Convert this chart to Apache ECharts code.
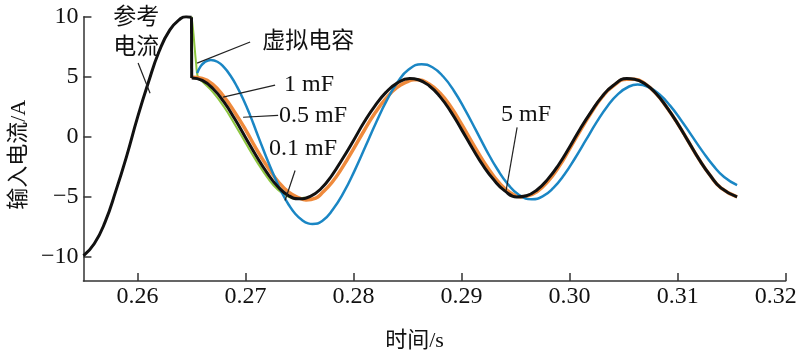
<!DOCTYPE html>
<html><head><meta charset="utf-8">
<script src="https://cdn.jsdelivr.net/npm/echarts@6/dist/echarts.min.js"></script>
<style>html,body{margin:0;padding:0;background:#fff}#c{width:800px;height:359px}</style>
</head><body><div id="c"></div>
<script>
// ---- tick labels ----
const xTicks = [0.26, 0.27, 0.28, 0.29, 0.30, 0.31, 0.32];
const yTicks = [-10, -5, 0, 5, 10];

// ---- reference current (black): before the step ----
const refBefore = [[0.255,-9.9],[0.256,-8.9],[0.257,-7.1],[0.258,-4.5],[0.259,-1.6],[0.260,1.6],
  [0.261,4.5],[0.262,7.1],[0.263,8.9],[0.264,9.85],[0.2645,10],[0.265,9.95]];
// step of the reference
const refStep = [[0.265,9.95],[0.26502,4.9]];
// reference current after the step
const refAfter = [[0.26502,4.9],[0.266,4.7],[0.267,4.0],[0.268,2.9],[0.269,1.5],[0.270,-0.05],[0.271,-1.6],
  [0.272,-3.0],[0.273,-4.15],[0.274,-4.9],[0.2749,-5.15],[0.276,-4.95],[0.277,-4.3],[0.278,-3.2],
  [0.279,-1.8],[0.280,-0.3],[0.281,1.25],[0.282,2.6],[0.283,3.7],[0.284,4.45],[0.2852,4.85],[0.286,4.75],
  [0.287,4.25],[0.288,3.35],[0.289,2.1],[0.290,0.6],[0.291,-0.95],[0.292,-2.4],[0.293,-3.6],[0.294,-4.5],
  [0.2951,-5.0],[0.296,-4.9],[0.297,-4.4],[0.298,-3.5],[0.299,-2.3],[0.300,-0.85],[0.301,0.7],[0.302,2.1],
  [0.303,3.35],[0.304,4.25],[0.3053,4.85],[0.306,4.8],[0.307,4.4],[0.308,3.6],[0.309,2.45],[0.310,1.1],
  [0.311,-0.4],[0.312,-1.9],[0.313,-3.2],[0.314,-4.25],[0.3155,-5.0]];

// ---- virtual capacitance responses ----
const curveGreen = [[0.265,10],[0.26515,8.9],[0.26543,6.1],[0.2656,4.95],[0.266,4.6],[0.267,3.7],
  [0.268,2.5],[0.269,1.05],[0.270,-0.5],[0.271,-2.0],[0.272,-3.35],[0.273,-4.4],[0.274,-5.0],
  [0.2746,-5.15],[0.2755,-5.05]];
const curveOrange = [[0.26502,4.95],[0.266,4.85],[0.267,4.35],[0.268,3.35],[0.269,2.05],[0.270,0.6],
  [0.271,-1.0],[0.272,-2.45],[0.273,-3.7],[0.274,-4.6],[0.275,-5.1],[0.2756,-5.25],[0.2765,-5.1],
  [0.277,-4.75],[0.278,-3.8],[0.279,-2.5],[0.280,-1.0],[0.281,0.55],[0.282,2.0],[0.283,3.2],[0.284,4.1],
  [0.285,4.6],[0.2856,4.75],[0.286,4.75],[0.287,4.4],[0.288,3.65],[0.289,2.5],[0.290,1.05],[0.291,-0.5],
  [0.292,-2.0],[0.293,-3.3],[0.294,-4.3],[0.295,-4.9],[0.2955,-5.0],[0.296,-4.95],[0.297,-4.55],
  [0.298,-3.7],[0.299,-2.5],[0.300,-1.0],[0.301,0.55],[0.302,2.0],[0.303,3.3],[0.304,4.2],[0.3053,4.8],
  [0.306,4.8],[0.307,4.4],[0.308,3.6],[0.309,2.45],[0.310,1.1],[0.311,-0.4],[0.312,-1.9],[0.313,-3.2],
  [0.314,-4.25],[0.3155,-5.0]];
const curveBlue = [[0.26553,5.3],[0.2658,5.8],[0.2662,6.2],[0.2668,6.4],[0.2674,6.25],[0.2680,5.8],
  [0.2686,5.1],[0.2692,4.2],[0.2698,3.1],[0.2704,1.85],[0.2710,0.45],[0.2716,-0.95],[0.2722,-2.3],
  [0.2728,-3.55],[0.2734,-4.7],[0.2740,-5.65],[0.2746,-6.4],[0.2752,-6.9],[0.2758,-7.2],[0.2762,-7.25],
  [0.2771,-7.0],[0.2781,-6.03],[0.2791,-4.61],[0.2801,-2.81],[0.2811,-0.81],[0.2821,1.22],[0.2831,3.07],
  [0.2841,4.58],[0.2851,5.6],[0.2863,6.05],[0.2873,5.79],[0.2883,5.02],[0.2893,3.82],[0.2903,2.29],
  [0.2913,0.6],[0.2923,-1.12],[0.2933,-2.68],[0.2943,-3.96],[0.2953,-4.82],[0.2965,-5.2],[0.2975,-4.96],
  [0.2985,-4.25],[0.2995,-3.16],[0.3005,-1.78],[0.3015,-0.28],[0.3025,1.22],[0.3035,2.55],[0.3045,3.58],
  [0.3055,4.19],[0.3063,4.35],[0.3073,4.14],[0.3083,3.54],[0.3093,2.6],[0.3103,1.41],[0.3113,0.1],
  [0.3123,-1.21],[0.3133,-2.4],[0.3143,-3.34],[0.3155,-4.02]];

// ---- annotations (data coordinates) ----
const annotations = [
  {text:'参考\n电流', at:[0.25988, 8.68], from:[0.26006, 6.14], to:[0.26117, 3.63], cjk:true},
  {text:'虚拟电容', at:[0.27580, 7.89], from:[0.27043, 7.89], to:[0.26552, 6.14], cjk:true},
  {text:'1 mF', at:[0.27589, 4.30], from:[0.27274, 4.30], to:[0.26793, 3.30]},
  {text:'0.5 mF', at:[0.27626, 1.79], from:[0.27302, 1.79], to:[0.26978, 1.63]},
  {text:'0.1 mF', at:[0.27533, -0.96], from:[0.27459, -2.80], to:[0.27366, -5.30]},
  {text:'5 mF', at:[0.29597, 1.88], from:[0.29514, 0.79], to:[0.29412, -4.47]}
];

const FONT = "'Liberation Serif','Noto Sans CJK SC',serif";
const TXT = '#111';
const chart = echarts.init(document.getElementById('c'));
function line(name, data, color, width, smooth) {
  return {name, type:'line', data, showSymbol:false, symbol:'none', smooth: smooth, animation:false,
    lineStyle:{color, width}, itemStyle:{color}, emphasis:{disabled:true}};
}
chart.setOption({
  animation:false,
  backgroundColor:'#fff',
  grid:{left:83.3, right:14.3, top:16.7, bottom:78},
  xAxis:{type:'value', min:0.255, max:0.32, name:'时间/s', nameLocation:'middle', nameGap:49,
    nameTextStyle:{fontFamily:FONT, fontSize:22, color:TXT, padding:[0,40,0,0]},
    axisLine:{onZero:false, lineStyle:{color:'#333', width:1.5}},
    axisTick:{inside:true, length:8, customValues:xTicks, lineStyle:{color:'#333', width:1.5}},
    axisLabel:{customValues:xTicks, margin:4, fontFamily:FONT, fontSize:24, color:TXT,
      formatter:function(v){ const s = v.toFixed(2); return Math.abs(v-0.32)<1e-9 ? '{last|'+s+'}' : s; },
      rich:{last:{fontFamily:FONT, fontSize:24, color:TXT, padding:[0,20,0,0]}}},
    splitLine:{show:false}},
  yAxis:{type:'value', min:-12, max:10, name:'输入电流/A', nameLocation:'middle', nameGap:48,
    nameTextStyle:{fontFamily:FONT, fontSize:22, color:TXT, padding:[0,12,0,0]},
    axisLine:{show:true, onZero:false, lineStyle:{color:'#333', width:1.5}},
    axisTick:{show:true, inside:true, length:8, customValues:yTicks, lineStyle:{color:'#333', width:1.5}},
    axisLabel:{customValues:yTicks, margin:5, fontFamily:FONT, fontSize:24, color:TXT,
      formatter:function(v){ return v<0 ? '\u2212'+(-v) : ''+v; }},
    splitLine:{show:false}},
  series:[
    line('green', curveGreen, '#8dc63f', 2, true),
    line('orange', curveOrange, '#ef8a3c', 3.5, true),
    line('blue', curveBlue, '#1a86c4', 2.5, true),
    line('refBefore', refBefore, '#111', 3, true),
    line('refStep', refStep, '#111', 3, false),
    line('refAfter', refAfter, '#111', 3, true)
  ]
});

const els = [];
annotations.forEach(function(a){
  const p = chart.convertToPixel({gridIndex:0}, a.at);
  const f = chart.convertToPixel({gridIndex:0}, a.from);
  const t = chart.convertToPixel({gridIndex:0}, a.to);
  els.push({type:'line', z:100, shape:{x1:f[0], y1:f[1], x2:t[0], y2:t[1]}, style:{stroke:'#222', lineWidth:1.2}});
  els.push({type:'text', z:101, style:{text:a.text, x:p[0], y:p[1], fill:TXT, align:'center', verticalAlign:'middle',
    font: (a.cjk ? '23px ' : '24px ') + FONT, lineHeight:30}});
});
chart.setOption({graphic:{elements:els}});
</script>
</body></html>
